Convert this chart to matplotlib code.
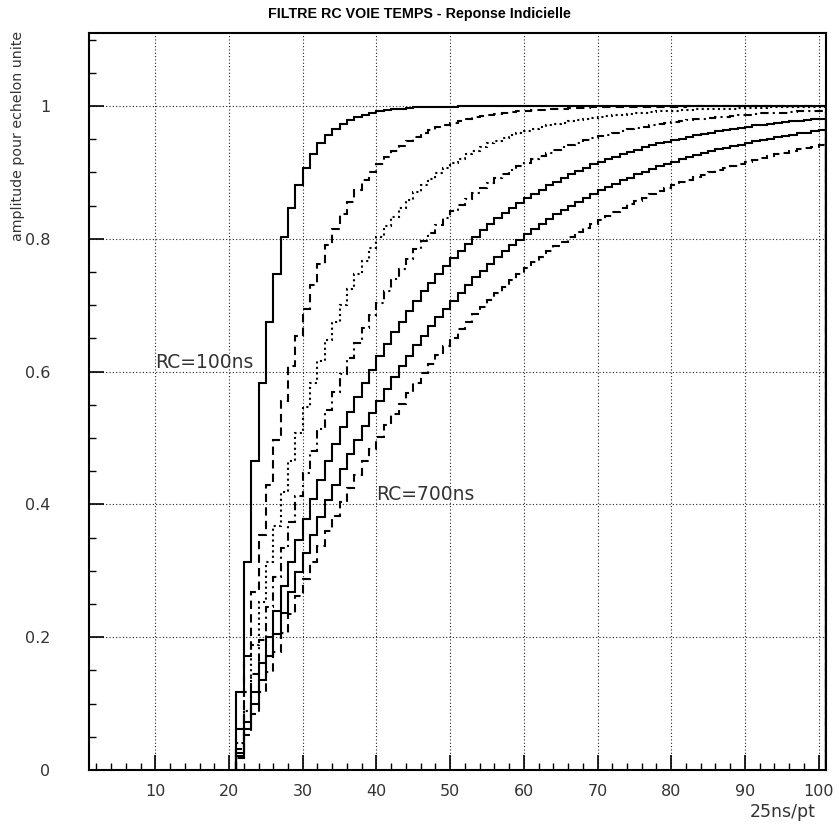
import numpy as np
import matplotlib
matplotlib.use("Agg")
import matplotlib.pyplot as plt
from matplotlib.ticker import MultipleLocator

# ── data: step response of the RC filter, one value per 25 ns bin ─────────────
RC_NS = [100, 200, 300, 400, 500, 600, 700]
FIRST_BIN = 21  # step arrives at bin 21, everything before is 0

RC100 = [0.118, 0.313, 0.465, 0.583, 0.675, 0.747, 0.803, 0.847, 0.881, 0.907,
         0.928, 0.944, 0.956, 0.966, 0.973, 0.979, 0.984, 0.987, 0.990, 0.992,
         0.994, 0.995, 0.996, 0.997, 0.998, 0.998, 0.999, 0.999, 0.999, 0.999,
         1.000, 1.000, 1.000, 1.000, 1.000, 1.000, 1.000, 1.000, 1.000, 1.000,
         1.000, 1.000, 1.000, 1.000, 1.000, 1.000, 1.000, 1.000, 1.000, 1.000,
         1.000, 1.000, 1.000, 1.000, 1.000, 1.000, 1.000, 1.000, 1.000, 1.000,
         1.000, 1.000, 1.000, 1.000, 1.000, 1.000, 1.000, 1.000, 1.000, 1.000,
         1.000, 1.000, 1.000, 1.000, 1.000, 1.000, 1.000, 1.000, 1.000, 1.000]

RC200 = [0.061, 0.171, 0.268, 0.354, 0.430, 0.497, 0.556, 0.608, 0.654, 0.695,
         0.731, 0.762, 0.790, 0.815, 0.837, 0.856, 0.873, 0.888, 0.901, 0.913,
         0.923, 0.932, 0.940, 0.947, 0.953, 0.959, 0.964, 0.968, 0.972, 0.975,
         0.978, 0.981, 0.983, 0.985, 0.987, 0.988, 0.990, 0.991, 0.992, 0.993,
         0.994, 0.994, 0.995, 0.996, 0.996, 0.997, 0.997, 0.997, 0.998, 0.998,
         0.998, 0.998, 0.999, 0.999, 0.999, 0.999, 0.999, 0.999, 0.999, 0.999,
         0.999, 1.000, 1.000, 1.000, 1.000, 1.000, 1.000, 1.000, 1.000, 1.000,
         1.000, 1.000, 1.000, 1.000, 1.000, 1.000, 1.000, 1.000, 1.000, 1.000]

RC300 = [0.041, 0.118, 0.188, 0.253, 0.313, 0.368, 0.418, 0.465, 0.508, 0.547,
         0.583, 0.616, 0.647, 0.675, 0.701, 0.725, 0.747, 0.767, 0.786, 0.803,
         0.819, 0.833, 0.847, 0.859, 0.870, 0.881, 0.890, 0.899, 0.907, 0.914,
         0.921, 0.928, 0.933, 0.939, 0.944, 0.948, 0.952, 0.956, 0.960, 0.963,
         0.966, 0.969, 0.971, 0.973, 0.975, 0.977, 0.979, 0.981, 0.982, 0.984,
         0.985, 0.986, 0.987, 0.988, 0.989, 0.990, 0.991, 0.992, 0.992, 0.993,
         0.994, 0.994, 0.995, 0.995, 0.995, 0.996, 0.996, 0.996, 0.997, 0.997,
         0.997, 0.997, 0.998, 0.998, 0.998, 0.998, 0.998, 0.998, 0.999, 0.999]

RC400 = [0.031, 0.089, 0.145, 0.196, 0.245, 0.291, 0.334, 0.374, 0.412, 0.448,
         0.481, 0.513, 0.542, 0.570, 0.596, 0.620, 0.643, 0.665, 0.685, 0.704,
         0.722, 0.739, 0.755, 0.770, 0.784, 0.797, 0.809, 0.821, 0.832, 0.842,
         0.851, 0.860, 0.869, 0.877, 0.884, 0.891, 0.898, 0.904, 0.910, 0.915,
         0.920, 0.925, 0.930, 0.934, 0.938, 0.942, 0.945, 0.949, 0.952, 0.955,
         0.957, 0.960, 0.962, 0.965, 0.967, 0.969, 0.971, 0.973, 0.974, 0.976,
         0.977, 0.979, 0.980, 0.981, 0.982, 0.983, 0.984, 0.985, 0.986, 0.987,
         0.988, 0.989, 0.989, 0.990, 0.990, 0.991, 0.992, 0.992, 0.993, 0.993]

RC500 = [0.025, 0.072, 0.118, 0.161, 0.201, 0.240, 0.277, 0.313, 0.346, 0.378,
         0.408, 0.437, 0.465, 0.491, 0.516, 0.539, 0.562, 0.583, 0.603, 0.623,
         0.641, 0.659, 0.675, 0.691, 0.706, 0.721, 0.734, 0.747, 0.759, 0.771,
         0.782, 0.793, 0.803, 0.813, 0.822, 0.831, 0.839, 0.847, 0.854, 0.861,
         0.868, 0.874, 0.881, 0.886, 0.892, 0.897, 0.902, 0.907, 0.912, 0.916,
         0.920, 0.924, 0.928, 0.931, 0.934, 0.938, 0.941, 0.944, 0.946, 0.949,
         0.951, 0.954, 0.956, 0.958, 0.960, 0.962, 0.964, 0.966, 0.967, 0.969,
         0.971, 0.972, 0.973, 0.975, 0.976, 0.977, 0.978, 0.979, 0.980, 0.981]

RC600 = [0.021, 0.061, 0.099, 0.136, 0.171, 0.205, 0.237, 0.268, 0.298, 0.327,
         0.354, 0.381, 0.406, 0.430, 0.453, 0.476, 0.497, 0.518, 0.537, 0.556,
         0.574, 0.592, 0.608, 0.624, 0.640, 0.654, 0.669, 0.682, 0.695, 0.707,
         0.719, 0.731, 0.742, 0.752, 0.762, 0.772, 0.781, 0.790, 0.799, 0.807,
         0.815, 0.823, 0.830, 0.837, 0.843, 0.850, 0.856, 0.862, 0.867, 0.873,
         0.878, 0.883, 0.888, 0.892, 0.897, 0.901, 0.905, 0.909, 0.913, 0.916,
         0.920, 0.923, 0.926, 0.929, 0.932, 0.935, 0.937, 0.940, 0.942, 0.945,
         0.947, 0.949, 0.951, 0.953, 0.955, 0.957, 0.959, 0.960, 0.962, 0.964]

RC700 = [0.018, 0.052, 0.085, 0.118, 0.148, 0.178, 0.207, 0.235, 0.262, 0.288,
         0.313, 0.337, 0.360, 0.383, 0.404, 0.425, 0.445, 0.465, 0.484, 0.502,
         0.519, 0.536, 0.552, 0.568, 0.583, 0.598, 0.612, 0.625, 0.639, 0.651,
         0.664, 0.675, 0.687, 0.698, 0.708, 0.719, 0.728, 0.738, 0.747, 0.756,
         0.765, 0.773, 0.781, 0.789, 0.796, 0.803, 0.810, 0.817, 0.823, 0.829,
         0.835, 0.841, 0.847, 0.852, 0.857, 0.862, 0.867, 0.872, 0.876, 0.881,
         0.885, 0.889, 0.893, 0.896, 0.900, 0.904, 0.907, 0.910, 0.913, 0.916,
         0.919, 0.922, 0.925, 0.928, 0.930, 0.933, 0.935, 0.937, 0.939, 0.942]

CURVES = [RC100, RC200, RC300, RC400, RC500, RC600, RC700]

# PAW-like line types: solid, dashed, dotted, dash-dot, solid, solid, dashed
STYLES = ["-", (0, (4, 2.5)), (0, (1, 1.6)), (0, (4, 2, 1, 2)), "-", "-", (0, (4, 2.5))]

TITLE = "FILTRE RC VOIE TEMPS - Reponse Indicielle"
YLABEL = "amplitude pour echelon unite"
XLABEL = "25ns/pt"

# ── figure ────────────────────────────────────────────────────────────────────
fig = plt.figure(figsize=(8.39, 8.26), dpi=100)
ax = fig.add_axes([0.1061, 0.0678, 0.9845 - 0.1061, 0.96 - 0.0678])

for vals, ls in zip(CURVES, STYLES):
    edges = np.arange(FIRST_BIN, FIRST_BIN + len(vals) + 1)
    ax.stairs(vals, edges, baseline=0, color="black", linewidth=1.5,
              linestyle=ls, zorder=3)

ax.set_xlim(1, 101)
ax.set_ylim(0, 1.11)

ax.xaxis.set_major_locator(MultipleLocator(10))
ax.xaxis.set_minor_locator(MultipleLocator(2))
ax.yaxis.set_major_locator(MultipleLocator(0.2))
ax.yaxis.set_minor_locator(MultipleLocator(0.05))
ax.set_yticks([0, 0.2, 0.4, 0.6, 0.8, 1.0])
ax.set_yticklabels(["0", "0.2", "0.4", "0.6", "0.8", "1"])

ax.tick_params(which="major", direction="in", length=11, width=1.2,
               labelsize=11.5, labelcolor="#333333", pad=10)
ax.tick_params(which="minor", direction="in", length=5, width=1)
ax.tick_params(axis="y", which="major", pad=28)
ax.tick_params(top=False, right=False)
for lab in ax.get_yticklabels():
    lab.set_horizontalalignment("right")

ax.grid(which="major", color="#222222", linestyle=(0, (1, 2)), linewidth=0.8)
for spine in ax.spines.values():
    spine.set_linewidth(1.5)
    spine.set_color("black")

ax.text(10, 0.6, "RC=100ns", fontsize=13.5, color="#333333", va="bottom", zorder=4)
ax.text(40, 0.4, "RC=700ns", fontsize=13.5, color="#333333", va="bottom", zorder=4)

fig.text(0.5, 0.983, TITLE, ha="center", va="center", fontsize=10.3,
         fontweight="bold", family="Liberation Sans")
fig.text(0.021, 0.963, YLABEL, rotation=90, ha="center", va="top",
         fontsize=10.2, color="#333333")
fig.text(0.972, 0.017, XLABEL, ha="right", va="center",
         fontsize=12.5, color="#333333")

fig.savefig("out.png", dpi=100)
